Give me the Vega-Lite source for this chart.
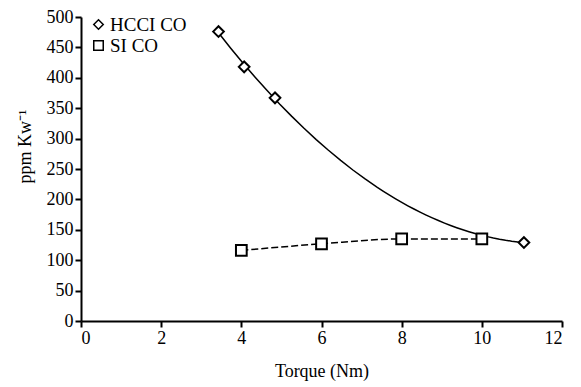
{
  "$schema": "https://vega.github.io/schema/vega-lite/v6.json",
  "width": 481,
  "height": 304,
  "autosize": "none",
  "padding": {"left": 81, "top": 17, "right": 19, "bottom": 66},
  "background": "white",
  "config": {
    "view": {"stroke": null},
    "font": "Liberation Serif",
    "axis": {
      "grid": false,
      "domainColor": "black",
      "domainWidth": 2,
      "tickColor": "black",
      "tickWidth": 2,
      "tickSize": 6,
      "labelColor": "black",
      "labelFont": "Liberation Serif",
      "labelFontSize": 18,
      "titleFont": "Liberation Serif",
      "titleFontSize": 18,
      "titleFontWeight": "normal",
      "titleColor": "black"
    }
  },
  "data": {
    "values": [
      {"series": "HCCI CO", "torque": 3.43, "ppm": 476},
      {"series": "HCCI CO", "torque": 4.07, "ppm": 418},
      {"series": "HCCI CO", "torque": 4.84, "ppm": 367},
      {"series": "HCCI CO", "torque": 11.05, "ppm": 129},
      {"series": "SI CO", "torque": 4, "ppm": 116},
      {"series": "SI CO", "torque": 6, "ppm": 127},
      {"series": "SI CO", "torque": 8, "ppm": 135},
      {"series": "SI CO", "torque": 10, "ppm": 135}
    ]
  },
  "encoding": {
    "x": {
      "field": "torque", "type": "quantitative",
      "scale": {"domain": [0, 12], "nice": false},
      "axis": {"values": [0, 2, 4, 6, 8, 10, 12], "title": "Torque (Nm)", "titleFontWeight": "normal", "titlePadding": 15, "labelPadding": 2}
    },
    "y": {
      "field": "ppm", "type": "quantitative",
      "scale": {"domain": [0, 500], "nice": false},
      "axis": {"values": [0, 50, 100, 150, 200, 250, 300, 350, 400, 450, 500], "title": "ppm Kw⁻¹", "titleFontWeight": "normal", "titleX": -47, "titleY": 129, "titleBaseline": "bottom", "titleAngle": -90, "labelPadding": 2}
    }
  },
  "layer": [
    {
      "transform": [
        {"filter": "datum.series === 'HCCI CO'"},
        {"regression": "ppm", "on": "torque", "method": "poly", "order": 2, "extent": [3.43, 11.05]}
      ],
      "mark": {"type": "line", "color": "black", "strokeWidth": 1.5}
    },
    {
      "transform": [{"filter": "datum.series === 'SI CO'"}],
      "mark": {"type": "line", "color": "black", "strokeWidth": 1.5, "strokeDash": [7, 3], "interpolate": "monotone"}
    },
    {
      "mark": {"type": "point", "filled": true, "fill": "white", "stroke": "black", "strokeWidth": 2, "opacity": 1, "size": 115},
      "encoding": {
        "shape": {
          "field": "series", "type": "nominal",
          "scale": {"domain": ["HCCI CO", "SI CO"], "range": ["diamond", "square"]},
          "legend": {
            "title": null,
            "orient": "none",
            "legendX": 8,
            "legendY": -2,
            "padding": 0,
            "labelFont": "Liberation Serif",
            "labelFontSize": 19,
            "labelColor": "black",
            "symbolSize": 90,
            "rowPadding": 1,
            "labelOffset": 2,
            "encode": {
              "symbols": {
                "update": {
                  "fill": {"value": "white"},
                  "stroke": {"value": "black"},
                  "strokeWidth": {"value": 2},
                  "opacity": {"value": 1}
                }
              }
            }
          }
        }
      }
    }
  ]
}
